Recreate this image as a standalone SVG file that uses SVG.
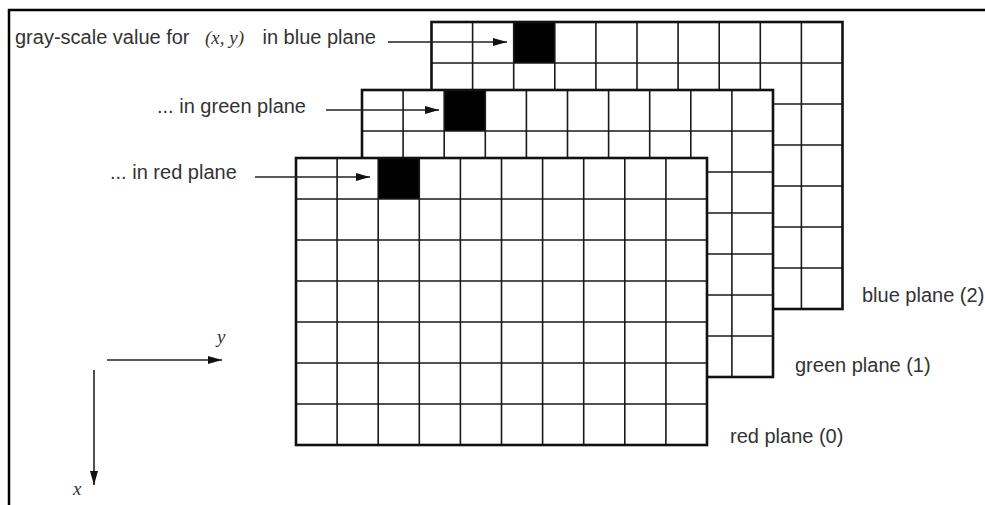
<svg xmlns="http://www.w3.org/2000/svg" xmlns:xlink="http://www.w3.org/1999/xlink" width="985" height="505" viewBox="0 0 985 505">
  <style>
    .frame{fill:none;stroke:#000;stroke-width:2.5}
    .bg{fill:#fff;stroke:none}
    .grid{fill:none;stroke:#1a1a1a;stroke-width:1.6}
    .border{fill:none;stroke:#111;stroke-width:2.6}
    .cell{fill:#000}
    .lbl{font-family:"Liberation Sans",Arial,sans-serif;font-size:20px;fill:#333}
    .var{font-family:"Liberation Serif","Times New Roman",serif;font-style:italic;font-size:19px;fill:#333}
    .arr{fill:none;stroke:#222;stroke-width:1.6}
  </style>
  <defs>
    <marker id="ah" markerUnits="userSpaceOnUse" markerWidth="15" markerHeight="9" refX="14" refY="4" orient="auto">
      <path d="M0,0 L14,4 L0,8 Z" fill="#111"/>
    </marker>
    <g id="plane">
      <rect class="bg" x="0" y="0" width="411" height="287"/>
      <rect class="cell" x="82.2" y="0" width="41.1" height="41"/>
      <path class="grid" d="M41.1,0V287M82.2,0V287M123.3,0V287M164.4,0V287M205.5,0V287M246.6,0V287M287.7,0V287M328.8,0V287M369.9,0V287M0,41H411M0,82H411M0,123H411M0,164H411M0,205H411M0,246H411"/>
      <rect class="border" x="0" y="0" width="411" height="287"/>
    </g>
  </defs>
  <rect x="0" y="0" width="985" height="505" fill="#fff"/>
  <path class="frame" d="M9,505V10H985"/>

  <g id="blue-plane"><use xlink:href="#plane" href="#plane" transform="translate(431.5,22)"/></g>
  <g id="green-plane"><use xlink:href="#plane" href="#plane" transform="translate(362,90)"/></g>
  <g id="red-plane"><use xlink:href="#plane" href="#plane" transform="translate(296,158)"/></g>

  <g id="connectors">
    <line class="arr" x1="388" y1="42" x2="507" y2="42" marker-end="url(#ah)"/>
    <line class="arr" x1="326" y1="110" x2="439" y2="110" marker-end="url(#ah)"/>
    <line class="arr" x1="255" y1="177" x2="370" y2="177" marker-end="url(#ah)"/>
    <line class="arr" x1="107" y1="360" x2="222" y2="360" marker-end="url(#ah)"/>
    <line class="arr" x1="94" y1="370" x2="94" y2="485" marker-end="url(#ah)"/>
  </g>

  <g id="labels">
    <text class="lbl" x="15" y="44">gray-scale value for</text>
    <text class="var" x="205" y="44">(x, y)</text>
    <text class="lbl" x="262.5" y="44">in blue plane</text>
    <text class="lbl" x="157" y="113">... in green plane</text>
    <text class="lbl" x="110" y="179">... in red plane</text>
    <text class="lbl" x="862" y="302">blue plane (2)</text>
    <text class="lbl" x="795" y="372">green plane (1)</text>
    <text class="lbl" x="730" y="443">red plane (0)</text>
    <text class="var" x="217" y="343" font-size="18">y</text>
    <text class="var" x="73" y="495" font-size="18">x</text>
  </g>
</svg>
